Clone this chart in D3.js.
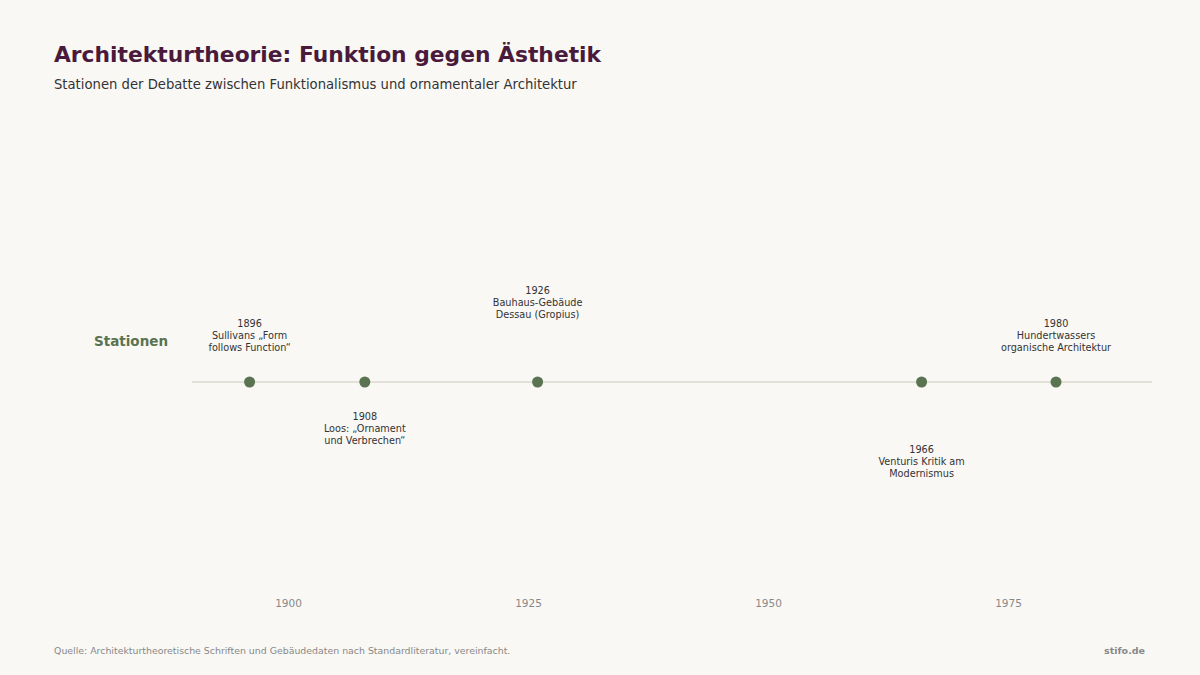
<!DOCTYPE html>
<html lang="de">
<head>
<meta charset="utf-8">
<script src="https://cdn.jsdelivr.net/npm/d3@7/dist/d3.min.js"></script>
<style>
  html, body { margin: 0; padding: 0; background: #f9f8f5; }
  body { width: 1200px; height: 675px; overflow: hidden; font-family: "DejaVu Sans", sans-serif; }
</style>
</head>
<body>
<div id="chart"></div>
<script>
// Data
const years = [1896, 1908, 1926, 1966, 1980];
const labels = [
    ["Sullivans \u201EForm", "follows Function\u201C"],
    ["Loos: \u201EOrnament", "und Verbrechen\u201C"],
    ["Bauhaus-Geb\u00E4ude", "Dessau (Gropius)"],
    ["Venturis Kritik am", "Modernismus"],
    ["Hundertwassers", "organische Architektur"]
];
const tickYears = [1900, 1925, 1950, 1975];
const yearDomain = [1890, 1990];

const width = 1200, height = 675;

const svg = d3.select("#chart")
    .append("svg")
    .attr("width", width)
    .attr("height", height)
    .attr("viewBox", [0, 0, width, height]);

svg.append("rect").attr("width", width).attr("height", height).attr("fill", "#f9f8f5");

// Title + subtitle
svg.append("text")
    .attr("x", 54).attr("y", 62)
    .attr("font-size", 21.8).attr("font-weight", "bold")
    .attr("fill", "#4a1a3c")
    .text("Architekturtheorie: Funktion gegen \u00C4sthetik");

svg.append("text")
    .attr("x", 54).attr("y", 89)
    .attr("font-size", 13.2).attr("fill", "#333")
    .text("Stationen der Debatte zwischen Funktionalismus und ornamentaler Architektur");

// Scale
const x = d3.scaleLinear().domain(yearDomain).range([192, 1152]);
const lineY = 382;

// Lane label
svg.append("text")
    .attr("x", 131).attr("y", 346)
    .attr("text-anchor", "middle")
    .attr("font-size", 13.5).attr("font-weight", "bold")
    .attr("fill", "#5a7350")
    .text("Stationen");

// Baseline
svg.append("line")
    .attr("x1", x(yearDomain[0])).attr("x2", x(yearDomain[1]))
    .attr("y1", lineY).attr("y2", lineY)
    .attr("stroke", "#e3e0d8").attr("stroke-width", 2);

const events = years.map((y, i) => ({ year: y, lines: labels[i], i }));

// Dots
svg.selectAll(".dot")
    .data(events)
    .enter()
    .append("circle")
    .attr("class", "dot")
    .attr("cx", d => x(d.year))
    .attr("cy", lineY)
    .attr("r", 5.5)
    .attr("fill", "#5a7350");

// Labels: alternate above/below, second pair pushed further out
const lineH = 12;
svg.selectAll(".lbl")
    .data(events)
    .enter()
    .append("text")
    .attr("class", "lbl")
    .attr("text-anchor", "middle")
    .attr("font-size", 9.7)
    .attr("fill", "#333")
    .each(function (d) {
        const above = d.i % 2 === 0;
        const far = Math.floor(d.i / 2) % 2 === 1;
        const gap = far ? 64 : 31;
        const rows = [String(d.year), ...d.lines];
        // baseline of first row
        const firstY = above
            ? lineY - gap - (rows.length - 1) * lineH
            : lineY + gap + 7;
        const t = d3.select(this);
        rows.forEach((r, k) => {
            t.append("tspan")
                .attr("x", x(d.year))
                .attr("y", firstY + k * lineH)
                .text(r);
        });
    });

// Axis
const axis = d3.axisBottom(x).tickValues(tickYears).tickFormat(d3.format("d")).tickSize(0);
const axisG = svg.append("g")
    .attr("transform", "translate(0,597)")
    .call(axis);
axisG.select(".domain").remove();
axisG.selectAll("text")
    .attr("font-family", "DejaVu Sans, sans-serif")
    .attr("font-size", 10.5)
    .attr("fill", "#888");

// Footer
svg.append("text")
    .attr("x", 54).attr("y", 654)
    .attr("font-size", 9.4).attr("fill", "#888")
    .text("Quelle: Architekturtheoretische Schriften und Geb\u00E4udedaten nach Standardliteratur, vereinfacht.");

svg.append("text")
    .attr("x", 1145).attr("y", 654)
    .attr("text-anchor", "end")
    .attr("font-size", 9.5).attr("font-weight", "bold").attr("fill", "#888")
    .text("stifo.de");
</script>
</body>
</html>
